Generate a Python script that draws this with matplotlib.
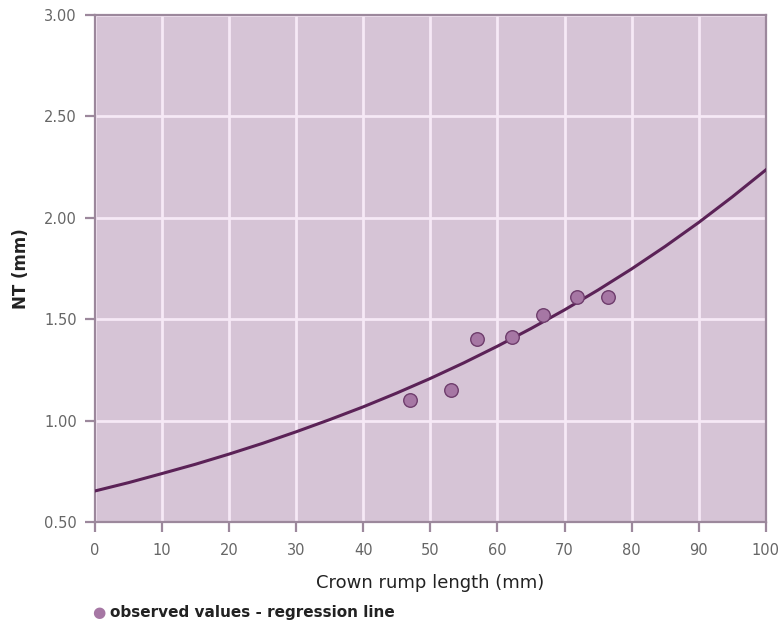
import matplotlib
matplotlib.use("Agg")
import matplotlib.pyplot as plt

# Observed nuchal translucency values
crl_obs = [46.9, 53.0, 56.9, 62.1, 66.8, 71.8, 76.5]
nt_obs = [1.10, 1.15, 1.40, 1.41, 1.52, 1.61, 1.61]

# Regression line sampled every 5 mm of crown rump length
crl_fit = [0, 5, 10, 15, 20, 25, 30, 35, 40, 45, 50,
           55, 60, 65, 70, 75, 80, 85, 90, 95, 100]
nt_fit = [0.653, 0.694, 0.739, 0.785, 0.835, 0.888, 0.945, 1.005, 1.068, 1.136, 1.208,
          1.285, 1.367, 1.454, 1.546, 1.644, 1.748, 1.859, 1.977, 2.103, 2.236]

x_ticks = [0, 10, 20, 30, 40, 50, 60, 70, 80, 90, 100]
y_ticks = [0.50, 1.00, 1.50, 2.00, 2.50, 3.00]

bg = "#d6c4d6"
grid_c = "#f6e9f6"
spine_c = "#9c889c"
line_c = "#5b2257"
pt_fill = "#a677a4"
pt_edge = "#6e3d6c"
text_c = "#666666"

fig = plt.figure(figsize=(7.79, 6.27), dpi=100)
ax = fig.add_axes([0.122, 0.1675, 0.861, 0.8085])
ax.set_facecolor(bg)

ax.set_xlim(0, 100)
ax.set_ylim(0.5, 3.0)
ax.set_xticks(x_ticks)
ax.set_yticks(y_ticks)
ax.set_yticklabels([f"{v:.2f}" for v in y_ticks])
ax.grid(True, color=grid_c, linewidth=2.0)
ax.set_axisbelow(True)

for s in ax.spines.values():
    s.set_color(spine_c)
    s.set_linewidth(1.6)

ax.tick_params(axis="both", direction="out", length=7, width=1.6, color=spine_c,
               labelcolor=text_c, labelsize=10.5)
ax.tick_params(axis="y", pad=6)
ax.tick_params(axis="x", pad=8)

ax.plot(crl_fit, nt_fit, color=line_c, linewidth=2.2, zorder=3)
ax.scatter(crl_obs, nt_obs, s=95, color=pt_fill, edgecolor=pt_edge, linewidth=1.0, zorder=4)

ax.set_xlabel("Crown rump length (mm)", fontsize=13, color="#222222", labelpad=12)
ax.set_ylabel("NT (mm)", fontsize=12, fontweight="bold", color="#222222", labelpad=10)

fig.text(0.118, 0.011, "\u25cf", color=pt_fill, fontsize=11, ha="left", va="bottom")
fig.text(0.141, 0.011, "observed values - regression line", color="#222222",
         fontsize=11, fontweight="bold", ha="left", va="bottom")

fig.savefig("out.png", dpi=100)
